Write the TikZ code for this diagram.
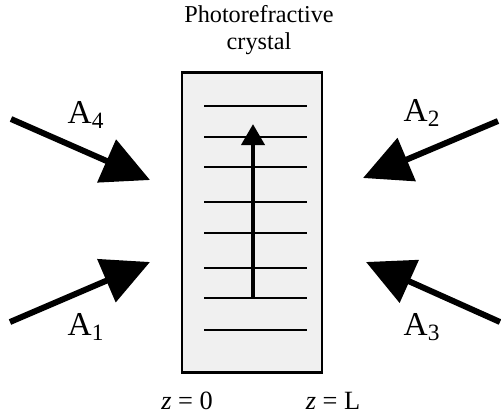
\documentclass[tikz,border=0pt]{standalone}
\usepackage{fontspec}
\setmainfont{Liberation Serif}
\usepackage{xcolor}
\definecolor{crystalgray}{RGB}{240,240,240}
\usetikzlibrary{arrows.meta}

\tikzset{
  beam/.style={line width=3.4pt, -{Triangle[length=27pt, width=26pt]}},
  beamlabel/.style={font=\fontsize{19}{19}\selectfont, inner sep=0pt},
  grating/.style={line width=1.1pt},
}

\begin{document}
\begin{tikzpicture}[x=0.02cm, y=-0.02cm]
\useasboundingbox (0,0) rectangle (501,417);
% Crystal with grating
\draw[line width=1.7pt, fill=crystalgray] (182,72) rectangle (322,372);
\foreach \y in {106,137,167,202,233,268,298,330}
  \draw[grating] (204,\y) -- (307,\y);
\coordinate (kbot) at (253,298);
\coordinate (ktop) at (253,124);
\draw[line width=2.6pt, -{Triangle[length=12pt, width=13pt]}] (kbot) -- (ktop);
% Title
\node[font=\fontsize{13.8}{15}\selectfont, align=center] (title) at (259,30) {Photorefractive\\crystal};
% Beams
\coordinate (a4s) at (11,119);
\coordinate (a4e) at (150,180);
\coordinate (a2s) at (498,121);
\coordinate (a2e) at (363,178);
\coordinate (a1s) at (10,322);
\coordinate (a1e) at (150,262);
\coordinate (a3s) at (500,322);
\coordinate (a3e) at (366,262);
\draw[beam] (a4s) -- (a4e);
\draw[beam] (a2s) -- (a2e);
\draw[beam] (a1s) -- (a1e);
\draw[beam] (a3s) -- (a3e);
\node[beamlabel] (l4) at (86,115) {A\textsubscript{4}};
\node[beamlabel] (l2) at (422,113) {A\textsubscript{2}};
\node[beamlabel] (l1) at (86,327) {A\textsubscript{1}};
\node[beamlabel] (l3) at (422,327) {A\textsubscript{3}};
% Faces
\node[font=\fontsize{15}{17}\selectfont] (z0) at (187,401) {\textit{z} = 0};
\node[font=\fontsize{15}{17}\selectfont] (zL) at (333,401) {\textit{z} = L};
\end{tikzpicture}
\end{document}
